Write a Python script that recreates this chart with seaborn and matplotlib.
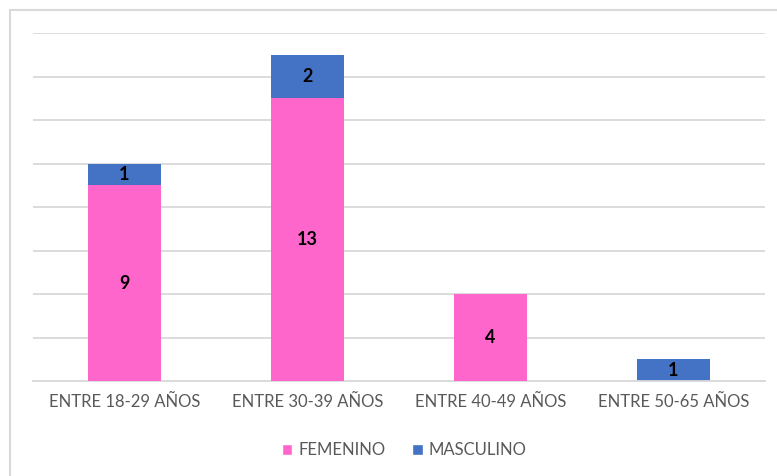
import matplotlib
matplotlib.use("Agg")
import matplotlib.pyplot as plt
import seaborn as sns
import pandas as pd
from matplotlib.lines import Line2D
from matplotlib.patches import Patch

categories = ["ENTRE 18-29 AÑOS", "ENTRE 30-39 AÑOS", "ENTRE 40-49 AÑOS", "ENTRE 50-65 AÑOS"]
femenino = [9, 13, 4, 0]
masculino = [1, 2, 0, 1]

PINK = "#FF66CC"
BLUE = "#4472C4"

sns.set_theme(style="white")
plt.rcParams["font.family"] = ["Lato", "DejaVu Sans"]

df = pd.DataFrame({"cat": categories, "fem": femenino, "mas": masculino})
df["total"] = df["fem"] + df["mas"]

fig = plt.figure(figsize=(7.77, 4.76), dpi=100)
ax = fig.add_axes([33/777, 1-381/476, (765-33)/777, (381-33)/476])

sns.barplot(data=df, x="cat", y="total", color=BLUE, width=0.4, ax=ax, saturation=1,
            linewidth=0, edgecolor="none", zorder=2)
sns.barplot(data=df, x="cat", y="fem", color=PINK, width=0.4, ax=ax, saturation=1,
            linewidth=0, edgecolor="none", zorder=3)

for i, (f, m) in enumerate(zip(femenino, masculino)):
    if f > 0:
        ax.text(i, f/2, str(f), ha="center", va="center", fontsize=13, fontweight="bold", color="black", zorder=5)
    if m > 0:
        ax.text(i, f + m/2, str(m), ha="center", va="center", fontsize=13, fontweight="bold", color="black", zorder=5)

ax.set_ylim(0, 16)
ax.set_xlim(-0.5, 3.5)
ax.set_yticks(range(0, 17, 2))
ax.set_yticklabels([])
ax.tick_params(axis="y", length=0)
ax.yaxis.grid(True, color="#D9D9D9", linewidth=1.3, zorder=0)
ax.set_axisbelow(True)
for s in ["top", "right", "left"]:
    ax.spines[s].set_visible(False)
ax.spines["bottom"].set_color("#D9D9D9")
ax.spines["bottom"].set_linewidth(1.3)
ax.tick_params(axis="x", length=0, labelsize=12, colors="#595959", pad=9)
ax.set_xlabel("")
ax.set_ylabel("")

handles = [Patch(facecolor=PINK, label="FEMENINO"), Patch(facecolor=BLUE, label="MASCULINO")]
leg = fig.legend(handles=handles, loc="center", bbox_to_anchor=(0.52, 1-450/476), ncol=2,
                 frameon=False, fontsize=12, handlelength=0.65, handleheight=0.65,
                 handletextpad=0.35, columnspacing=1.6)
for t in leg.get_texts():
    t.set_color("#595959")

# outer chart border (left and top visible)
fig.add_artist(Line2D([9.5/777, 9.5/777], [0, 1-10/476], transform=fig.transFigure, color="#D9D9D9", linewidth=1.5))
fig.add_artist(Line2D([9.5/777, 1], [1-10/476, 1-10/476], transform=fig.transFigure, color="#D9D9D9", linewidth=1.5))

fig.savefig("out.png", dpi=100)
